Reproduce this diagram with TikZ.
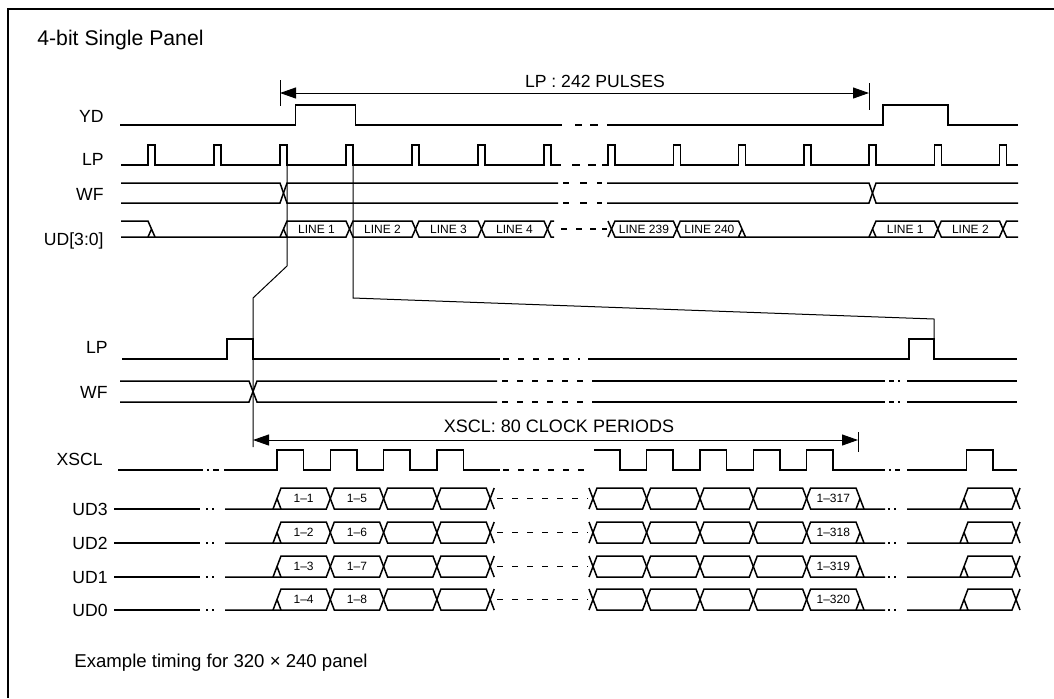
\documentclass[tikz,border=0pt]{standalone}
\usepackage{fontspec}
\setmainfont{Liberation Sans}
\usetikzlibrary{arrows.meta,positioning}

\begin{document}
\begin{tikzpicture}[
    x=0.5pt, y=-0.5pt,
    wave/.style={line width=0.75pt},
    guide/.style={line width=0.5pt},
    sig/.style={anchor=base east, inner sep=0pt, font=\fontsize{8.8}{10}\selectfont},
    busname/.style={inner sep=0pt, font=\fontsize{6}{7}\selectfont},
    caption/.style={anchor=base west, inner sep=0pt, font=\fontsize{9.3}{11}\selectfont},
    span/.style={{Triangle[length=8pt,width=5.5pt]}-{Triangle[length=8pt,width=5.5pt]}, line width=0.5pt},
    gapdash/.style={line width=0.75pt, dash pattern=on 3pt off 4.5pt}
  ]
  \useasboundingbox (0,0) rectangle (1054,698);

  % Frame and title
  \draw[line width=0.75pt] (1054,9) -- (8,9) -- (8,698);
  \node[caption, font=\fontsize{10.6}{12}\selectfont] (title) at (37,45) {4-bit Single Panel};

  % Frame timing - signal names
  \node[sig] (ydLbl) at (104,122) {YD};
  \node[sig] (lpLbl) at (104,165) {LP};
  \node[sig] (wfLbl) at (104,200) {WF};
  \node[sig] (udLbl) at (104,245) {UD[3:0]};

  % LP : 242 pulses
  \coordinate (lpA) at (280,93);
  \coordinate (lpB) at (869,93);
  \draw[guide] ([yshift=6.5pt]lpA) -- ([yshift=-6.5pt]lpA);
  \draw[guide] ([yshift=5pt]lpB) -- ([yshift=-8.5pt]lpB);
  \draw[span] (lpA) -- (lpB);
  \node[inner sep=0pt, font=\fontsize{8.8}{10}\selectfont] (lpTxt) at (595,81) {LP : 242 PULSES};

  % YD
  \draw[wave] (120,125) -- (295.5,125) -- (295.5,105) -- (355.5,105) -- (355.5,125) -- (562,125);
  \draw[wave] (575,125) -- (582,125) (590,125) -- (598,125);
  \draw[wave] (607,125) -- (883,125) -- (883,105) -- (948,105) -- (948,125) -- (1018,125);

  % LP
  \draw[wave] (121,165) foreach \r in {148,214,280,346,412,478,544} { -- (\r,165) -- (\r,145) -- (\r+7,145) -- (\r+7,165) } -- (561,165);
  \draw[wave] (572,165) -- (580,165) (588,165) -- (596,165);
  \draw[wave] (602,165) foreach \r in {608,673.3,738.5,803.8,869,934.3,999.5} { -- (\r,165) -- (\r,145) -- (\r+7,145) -- (\r+7,165) } -- (1018,165);

  % WF
  \draw[wave] (121,183) -- (280,183) -- (287,203) -- (558,203);
  \draw[wave] (121,203) -- (280,203) -- (287,183) -- (558,183);
  \foreach \y in {183,203}
    \draw[wave] (563,\y) -- (569,\y) (580,\y) -- (587,\y) (597,\y) -- (602,\y);
  \draw[wave] (607,183) -- (869,183) -- (876,203) -- (1018,203);
  \draw[wave] (607,203) -- (869,203) -- (876,183) -- (1018,183);

  % UD[3:0]
  \draw[wave] (121,221) -- (148,221) -- (155,237) (148,237) -- (151.5,229);
  \draw[wave] (121,237) -- (346,237) -- (353,221) -- (412,221) -- (419,237) -- (478,237) -- (485,221) -- (544,221) -- (551,237) -- (554,237);
  \draw[wave] (280,237) -- (287,221) -- (346,221) -- (353,237) -- (412,237) -- (419,221) -- (478,221) -- (485,237) -- (544,237) -- (551,221) -- (554,221);
  \draw[wave] (283.5,229) -- (287,237);
  \draw[wave] (561,229) -- (567,229) (576,229) -- (582,229) (590,229) -- (596,229) (602,229) -- (607,229);
  \draw[wave] (608,221) -- (615,237) -- (673.3,237) -- (680.3,221) -- (738.5,221) -- (745.5,237) -- (934.3,237) -- (941.3,221) -- (999.5,221) -- (1006.5,237) -- (1018,237);
  \draw[wave] (608,237) -- (615,221) -- (673.3,221) -- (680.3,237) -- (738.5,237) -- (745.5,237) (738.5,237) -- (742,229);
  \draw[wave] (869,237) -- (876,221) -- (934.3,221) -- (941.3,237) -- (999.5,237) -- (1006.5,221) -- (1018,221);
  \draw[wave] (872.5,229) -- (876,237);
  \foreach \x/\s [count=\i] in {316.5/LINE 1, 382.5/LINE 2, 448.5/LINE 3, 514.5/LINE 4, 644/LINE 239, 709.4/LINE 240, 905.2/LINE 1, 970.4/LINE 2}
    \node[busname] (line\i) at (\x,229) {\s};

  % Zoom guides
  \coordinate (g1top) at (287,145);
  \coordinate (g1knee) at (287,266);
  \coordinate (g1low) at (253,298);
  \coordinate (g1end) at (253,447);
  \draw[guide] (g1top) -- (g1knee) -- (g1low) -- (g1end);
  \coordinate (g2top) at (353,145);
  \coordinate (g2knee) at (353,298);
  \coordinate (g2low) at (934,319);
  \coordinate (g2end) at (934,339);
  \draw[guide] (g2top) -- (g2knee) -- (g2low) -- (g2end);

  % Line timing - signal names
  \node[sig] (lp2Lbl) at (108,353) {LP};
  \node[sig] (wf2Lbl) at (108,398) {WF};
  \node[sig] (xsclLbl) at (103,465) {XSCL};

  % LP
  \draw[wave] (122,359) -- (227,359) -- (227,339) -- (253,339) -- (253,359) -- (500,359);
  \draw[gapdash] (503,359) -- (580,359);
  \draw[wave] (588,359) -- (909,359) -- (909,339) -- (934,339) -- (934,359) -- (1017,359);

  % WF
  \draw[wave] (120,381) -- (249,381) -- (257,402) -- (497,402);
  \draw[wave] (120,402) -- (249,402) -- (257,381) -- (497,381);
  \draw[gapdash] (502,381) -- (585,381) (502,402) -- (585,402);
  \foreach \y in {381,402}
    \draw[wave] (592,\y) -- (885,\y) (889,\y) -- (894,\y) (898,\y) -- (900,\y) (907,\y) -- (1017,\y);

  % XSCL : 80 clock periods
  \coordinate (xsA) at (253,440);
  \coordinate (xsB) at (858,440);
  \draw[guide] ([yshift=4pt]xsB) -- ([yshift=-6pt]xsB);
  \draw[span] (xsA) -- (xsB);
  \node[inner sep=0pt, font=\fontsize{9}{10}\selectfont] (xsTxt) at (559,426) {XSCL: 80 CLOCK PERIODS};

  % XSCL
  \draw[wave] (118,470) -- (203,470) (207,470) -- (209,470) (213,470) -- (219,470);
  \draw[wave] (224,470) foreach \r in {277,330.3,383.6,436.9} { -- (\r,470) -- (\r,450) -- (\r+26.6,450) -- (\r+26.6,470) } -- (500,470);
  \draw[gapdash] (503,470) -- (593,470);
  \draw[wave] (594,450) -- (620,450) -- (620,470) foreach \r in {646.6,700,753.3,806.6} { -- (\r,470) -- (\r,450) -- (\r+26.6,450) -- (\r+26.6,470) } -- (885,470);
  \draw[wave] (889,470) -- (891,470) (895,470) -- (900,470);
  \draw[wave] (907,470) -- (966.7,470) -- (966.7,450) -- (993,450) -- (993,470) -- (1017,470);

  % UD3 .. UD0
  \foreach \t/\n/\da/\db/\dc in {488/UD3/1/5/317, 522/UD2/2/6/318, 556/UD1/3/7/319, 589/UD0/4/8/320} {
    \pgfmathsetmacro{\bb}{\t+21}
    \pgfmathsetmacro{\mm}{\t+10.5}
    \node[sig] (\n) at (108,\t+27) {\n};
    \draw[wave] (114,\bb) -- (200,\bb) (206,\bb) -- (208,\bb) (212,\bb) -- (214,\bb);
    \draw[wave] (225,\bb) -- (326.3,\bb) -- (334.3,\t) -- (379.6,\t) -- (387.6,\bb) -- (432.9,\bb) -- (440.9,\t) -- (486.2,\t) -- (494.2,\bb);
    \draw[wave] (273,\bb) -- (281,\t) -- (326.3,\t) -- (334.3,\bb) -- (379.6,\bb) -- (387.6,\t) -- (432.9,\t) -- (440.9,\bb) -- (486.2,\bb) -- (494.2,\t);
    \draw[wave] (277,\mm) -- (281,\bb);
    \draw[gapdash] (497,\mm) -- (588,\mm);
    \draw[wave] (589,\t) -- (597,\bb) -- (642.6,\bb) -- (650.6,\t) -- (696,\t) -- (704,\bb) -- (749.3,\bb) -- (757.3,\t) -- (802.6,\t) -- (810.6,\bb) -- (885,\bb);
    \draw[wave] (589,\bb) -- (597,\t) -- (642.6,\t) -- (650.6,\bb) -- (696,\bb) -- (704,\t) -- (749.3,\t) -- (757.3,\bb) -- (802.6,\bb) -- (810.6,\t) -- (856,\t) -- (864,\bb) (856,\bb) -- (860,\mm);
    \draw[wave] (888,\bb) -- (890,\bb) (894,\bb) -- (896,\bb);
    \draw[wave] (907,\bb) -- (1012,\bb) -- (1020,\t) (960,\bb) -- (968,\t) -- (1012,\t) -- (1020,\bb) (964,\mm) -- (968,\bb);
    \node[busname] (\n-a) at (303.6,\mm) {1--\da};
    \node[busname] (\n-b) at (357,\mm) {1--\db};
    \node[busname] (\n-c) at (833.3,\mm) {1--\dc};
  }

  \node[caption] (note) at (74,667) {Example timing for 320 × 240 panel};
\end{tikzpicture}
\end{document}
